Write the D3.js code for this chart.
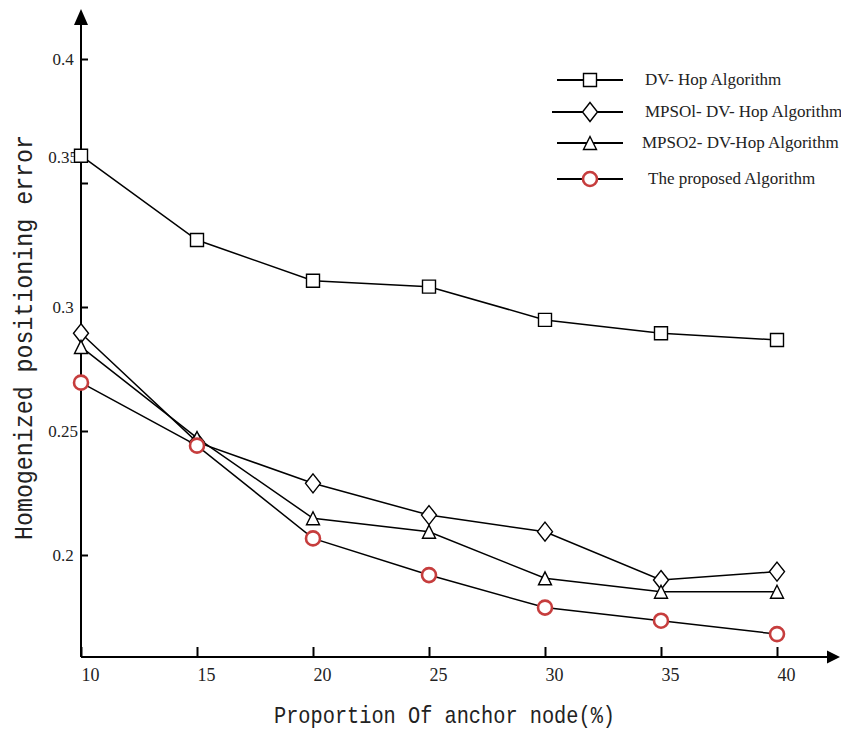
<!DOCTYPE html>
<html>
<head>
<meta charset="utf-8">
<script src="https://cdn.jsdelivr.net/npm/d3@7"></script>
<style>
  body { margin: 0; background: #fff; }
  svg { display: block; }
</style>
</head>
<body>
<svg id="chart"></svg>
<script>
// anchor node proportion (%)
const anchorPct = [10, 15, 20, 25, 30, 35, 40];
const dvHop = [0.361, 0.327, 0.3106, 0.3082, 0.2948, 0.2894, 0.2867];
const mpso1 = [0.2894, 0.2455, 0.2289, 0.2161, 0.2094, 0.1899, 0.1933];
const mpso2 = [0.2839, 0.2472, 0.2148, 0.2094, 0.1906, 0.1852, 0.1852];
const proposed = [0.2695, 0.2441, 0.2067, 0.1919, 0.1788, 0.1735, 0.1681];
const yTicks = [0.2, 0.25, 0.3, 0.35, 0.4];
const seriesNames = [
  "DV- Hop  Algorithm",
  "MPSOl- DV-  Hop Algorithm",
  "MPSO2- DV-Hop Algorithm",
  "The proposed Algorithm"
];

const w = 841, h = 733;
const svg = d3.select("#chart").attr("width", w).attr("height", h);

// scales
const x = d3.scaleLinear([10, 40], [81, 777]);
const y = d3.scaleLinear([0.2, 0.4], [555, 59]);
const x0 = 81, y0 = 657;

// marker shapes
function square(s) { return `M${-s},${-s}H${s}V${s}H${-s}Z`; }
function diamond(wd, ht) { return `M0,${-ht}L${wd},0L0,${ht}L${-wd},0Z`; }
function triangle(wd, ht) { return `M0,${-ht}L${wd},${ht}L${-wd},${ht}Z`; }

const red = "#c63d3d";
const series = [
  { name: seriesNames[0], values: dvHop, shape: "square" },
  { name: seriesNames[1], values: mpso1, shape: "diamond" },
  { name: seriesNames[2], values: mpso2, shape: "triangle" },
  { name: seriesNames[3], values: proposed, shape: "circle" }
];

function drawMarker(g, shape) {
  if (shape === "circle") {
    g.append("circle").attr("r", 7).attr("fill", "#fff")
      .attr("stroke", red).attr("stroke-width", 2.6);
  } else {
    var d = shape === "square" ? square(6.5)
      : shape === "diamond" ? diamond(7.5, 9.5)
      : triangle(6.5, 6.5);
    g.append("path").attr("d", d).attr("fill", "#fff")
      .attr("stroke", "#000").attr("stroke-width", 1.4);
  }
}

// axes lines with arrows
svg.append("line").attr("x1", x0).attr("y1", y0).attr("x2", x0).attr("y2", 22)
  .attr("stroke", "#000").attr("stroke-width", 2);
svg.append("path").attr("d", `M${x0},9L${x0 + 7},25L${x0 - 7},25Z`).attr("fill", "#000");
svg.append("line").attr("x1", x0).attr("y1", y0).attr("x2", 830).attr("y2", y0)
  .attr("stroke", "#000").attr("stroke-width", 2);
svg.append("path").attr("d", `M840,${y0}L827,${y0 - 6.5}L827,${y0 + 6.5}Z`).attr("fill", "#000");

// y axis ticks
const yAxis = svg.append("g")
  .attr("transform", `translate(${x0},0)`)
  .call(d3.axisLeft(y).tickValues(yTicks).tickSizeInner(-7).tickSizeOuter(0)
    .tickFormat(d3.format("")));
yAxis.select(".domain").remove();
yAxis.selectAll(".tick line").attr("stroke", "#000").attr("stroke-width", 2);
yAxis.selectAll(".tick text")
  .attr("x", -18)
  .attr("dy", d => d === 0.35 ? "-1.2em" : "0.34em")
  .attr("text-anchor", "middle")
  .attr("fill", "#222")
  .style("font-family", "'Liberation Serif', 'Times New Roman', serif")
  .style("font-size", "17px");

// x axis ticks
const xAxis = svg.append("g")
  .attr("transform", `translate(0,${y0})`)
  .call(d3.axisBottom(x).tickValues(anchorPct).tickSizeInner(-10).tickSizeOuter(0));
xAxis.select(".domain").remove();
xAxis.selectAll(".tick line").attr("stroke", "#000").attr("stroke-width", 2);
xAxis.selectAll(".tick text")
  .attr("x", 0)
  .attr("y", 24)
  .attr("dy", 0)
  .attr("text-anchor", "start")
  .attr("fill", "#222")
  .style("font-family", "'Liberation Serif', 'Times New Roman', serif")
  .style("font-size", "18px");

// lines
const line = d3.line().x((d, i) => x(anchorPct[i])).y(d => y(d));
series.forEach(s => {
  svg.append("path").datum(s.values).attr("d", line)
    .attr("fill", "none").attr("stroke", "#000").attr("stroke-width", 1.5);
});
// markers
series.forEach(s => {
  s.values.forEach((v, i) => {
    const g = svg.append("g").attr("transform", `translate(${x(anchorPct[i])},${y(v)})`);
    drawMarker(g, s.shape);
  });
});

// legend
const legendY = [80, 112, 143, 179];
series.forEach((s, i) => {
  const g = svg.append("g").attr("transform", `translate(0,${legendY[i]})`);
  g.append("line").attr("x1", i === 1 ? 552 : 557).attr("x2", 623)
    .attr("stroke", "#000").attr("stroke-width", 2);
  const m = g.append("g").attr("transform", "translate(590,0)");
  drawMarker(m, s.shape);
  g.append("text").attr("x", i === 2 ? 642 : i === 3 ? 648 : 645).attr("y", 5)
    .attr("fill", "#222")
    .style("font-family", "'Liberation Serif', 'Times New Roman', serif")
    .style("font-size", "17px")
    .text(s.name);
});

// axis titles
svg.append("text")
  .attr("x", 274).attr("y", 723)
  .attr("textLength", 341).attr("lengthAdjust", "spacingAndGlyphs")
  .attr("fill", "#222")
  .style("font-family", "'Liberation Mono', 'Courier New', monospace")
  .style("font-size", "24px")
  .text("Proportion Of anchor node(%)");

svg.append("text")
  .attr("transform", "translate(32,540) rotate(-90)")
  .attr("textLength", 405).attr("lengthAdjust", "spacingAndGlyphs")
  .attr("fill", "#222")
  .style("font-family", "'Liberation Mono', 'Courier New', monospace")
  .style("font-size", "26px")
  .text("Homogenized positioning error");
</script>
</body>
</html>
